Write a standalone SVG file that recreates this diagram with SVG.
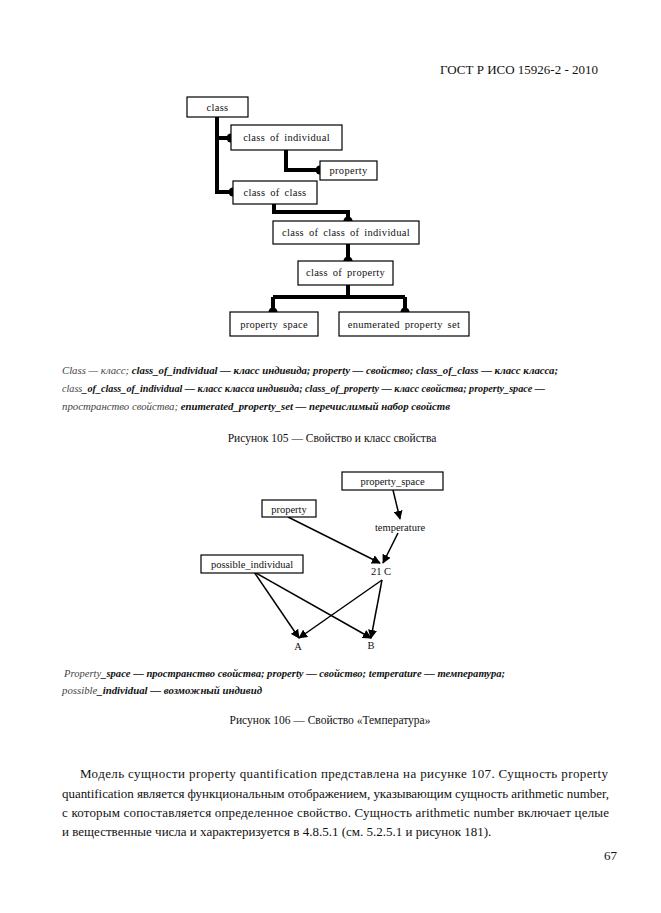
<svg xmlns="http://www.w3.org/2000/svg" width="661" height="913" viewBox="0 0 661 913">
<style>
.bg{fill:#fff}
.box{fill:#fff;stroke:#000;stroke-width:1.2}
.t1{font-family:"Liberation Serif",serif;font-size:10.5px;letter-spacing:0.3px;word-spacing:2px;fill:#111;text-anchor:middle}
.t2{font-family:"Liberation Serif",serif;font-size:10.5px;fill:#111;text-anchor:middle}
.thick{fill:none;stroke:#000;stroke-width:4}
.thin{fill:none;stroke:#000;stroke-width:1.5;marker-end:url(#ah)}
.leg{font-family:"Liberation Serif",serif;font-size:10.8px;font-style:italic;fill:#111}
.b{font-weight:bold}
.n{font-weight:normal;fill:#444}
.cap{font-family:"Liberation Serif",serif;font-size:11.5px;fill:#111;text-anchor:middle}
.body{font-family:"Liberation Serif",serif;font-size:13px;fill:#111}
.hdr{font-family:"Liberation Serif",serif;font-size:13px;fill:#111}
</style>
<defs>
<marker id="ah" viewBox="0 0 10 10" refX="9" refY="5" markerWidth="6" markerHeight="6" orient="auto" markerUnits="strokeWidth">
<path d="M0,0 L10,5 L0,10 z" fill="#000"/>
</marker>
</defs>
<rect class="bg" x="0" y="0" width="661" height="913"/>
<text class="hdr" x="598" y="74" text-anchor="end">ГОСТ Р ИСО 15926-2 - 2010</text>

<g id="connectors1">
<path class="thick" d="M217,117 V192 H233 M217,138 H231"/>
<path class="thick" d="M286,150 V170 H320"/>
<path class="thick" d="M274,204 V212 H348 V221"/>
<path class="thick" d="M348,244 V261"/>
<path class="thick" d="M348,285 V297 M273,297 H405 M273,297 V312 M405,297 V312"/>
<g fill="#000">
<circle cx="231" cy="138" r="4.5"/>
<circle cx="320" cy="170" r="4.5"/>
<circle cx="233" cy="192" r="4.5"/>
<circle cx="348" cy="221" r="4.5"/>
<circle cx="348" cy="261" r="4.5"/>
<circle cx="273" cy="312" r="4.5"/>
<circle cx="405" cy="312" r="4.5"/>
</g>
</g>
<g id="n_class"><rect class="box" x="187" y="97" width="61" height="20"/><text class="t1" x="217.5" y="110.5">class</text></g>
<g id="n_class_of_individual"><rect class="box" x="231" y="125" width="111" height="25"/><text class="t1" x="286.5" y="141">class of individual</text></g>
<g id="n_property"><rect class="box" x="320" y="161" width="57" height="19"/><text class="t1" x="348.5" y="174">property</text></g>
<g id="n_class_of_class"><rect class="box" x="233" y="181" width="84" height="23"/><text class="t1" x="275" y="196">class of class</text></g>
<g id="n_class_of_class_of_individual"><rect class="box" x="273" y="221" width="146" height="23"/><text class="t1" x="346" y="236">class of class of individual</text></g>
<g id="n_class_of_property"><rect class="box" x="298" y="261" width="95" height="24"/><text class="t1" x="345.5" y="276">class of property</text></g>
<g id="n_property_space"><rect class="box" x="230" y="312" width="88" height="24"/><text class="t1" x="274" y="327.5">property space</text></g>
<g id="n_enumerated_property_set"><rect class="box" x="339" y="312" width="130" height="24"/><text class="t1" x="404" y="327.5">enumerated property set</text></g>

<text class="leg" x="62" y="374" textLength="496" lengthAdjust="spacing"><tspan class="n">Class — класс; </tspan><tspan class="b">class_of_individual — класс индивида; property — свойство; class_of_class — класс класса;</tspan></text>
<text class="leg" x="62" y="392" textLength="483" lengthAdjust="spacingAndGlyphs"><tspan class="n">class</tspan><tspan class="b">_of_class_of_individual — класс класса индивида; class_of_property — класс свойства; property_space —</tspan></text>
<text class="leg" x="62" y="410" textLength="388" lengthAdjust="spacing"><tspan class="n">пространство свойства; </tspan><tspan class="b">enumerated_property_set — перечислимый набор свойств</tspan></text>

<text class="cap" x="332" y="442">Рисунок 105 — Свойство и класс свойства</text>

<g id="connectors2">
<line class="thin" x1="393" y1="490" x2="400" y2="519"/>
<line class="thin" x1="288" y1="517" x2="380" y2="563"/>
<line class="thin" x1="398" y1="533" x2="383" y2="563"/>
<line class="thin" x1="382" y1="580" x2="299" y2="638"/>
<line class="thin" x1="382" y1="580" x2="371" y2="638"/>
<line class="thin" x1="254" y1="572" x2="299" y2="638"/>
<line class="thin" x1="254" y1="572" x2="371" y2="638"/>
</g>
<g id="n2_property_space"><rect class="box" x="342" y="472" width="101" height="18"/><text class="t2" x="392.5" y="485">property_space</text></g>
<g id="n2_property"><rect class="box" x="262" y="500" width="54" height="17"/><text class="t2" x="289" y="512.5">property</text></g>
<g id="n2_possible_individual"><rect class="box" x="201" y="555" width="102" height="18"/><text class="t2" x="252" y="568">possible_individual</text></g>
<g id="n2_temperature"><text class="t2" x="400" y="531" font-size="10px">temperature</text></g>
<g id="n2_21c"><text class="t2" x="381" y="575">21 C</text></g>
<g id="n2_A"><text class="t2" x="298" y="650">A</text></g>
<g id="n2_B"><text class="t2" x="371" y="649">B</text></g>

<text class="leg" x="64" y="677" textLength="441" lengthAdjust="spacingAndGlyphs"><tspan class="n">Property</tspan><tspan class="b">_space — пространство свойства; property — свойство; temperature — температура;</tspan></text>
<text class="leg" x="62" y="694" textLength="200" lengthAdjust="spacingAndGlyphs"><tspan class="n">possible</tspan><tspan class="b">_individual — возможный индивид</tspan></text>

<text class="cap" x="330" y="724">Рисунок 106 — Свойство «Температура»</text>

<text class="body" x="80" y="778" textLength="528" lengthAdjust="spacing">Модель сущности property quantification представлена на рисунке 107. Сущность property</text>
<text class="body" x="62" y="798" textLength="547" lengthAdjust="spacing">quantification является функциональным отображением, указывающим сущность arithmetic number,</text>
<text class="body" x="62" y="817" textLength="547" lengthAdjust="spacing">с которым сопоставляется определенное свойство. Сущность arithmetic number включает целые</text>
<text class="body" x="62" y="836">и вещественные числа и характеризуется в 4.8.5.1 (см. 5.2.5.1 и рисунок 181).</text>

<text class="hdr" x="617" y="860" text-anchor="end">67</text>
</svg>
